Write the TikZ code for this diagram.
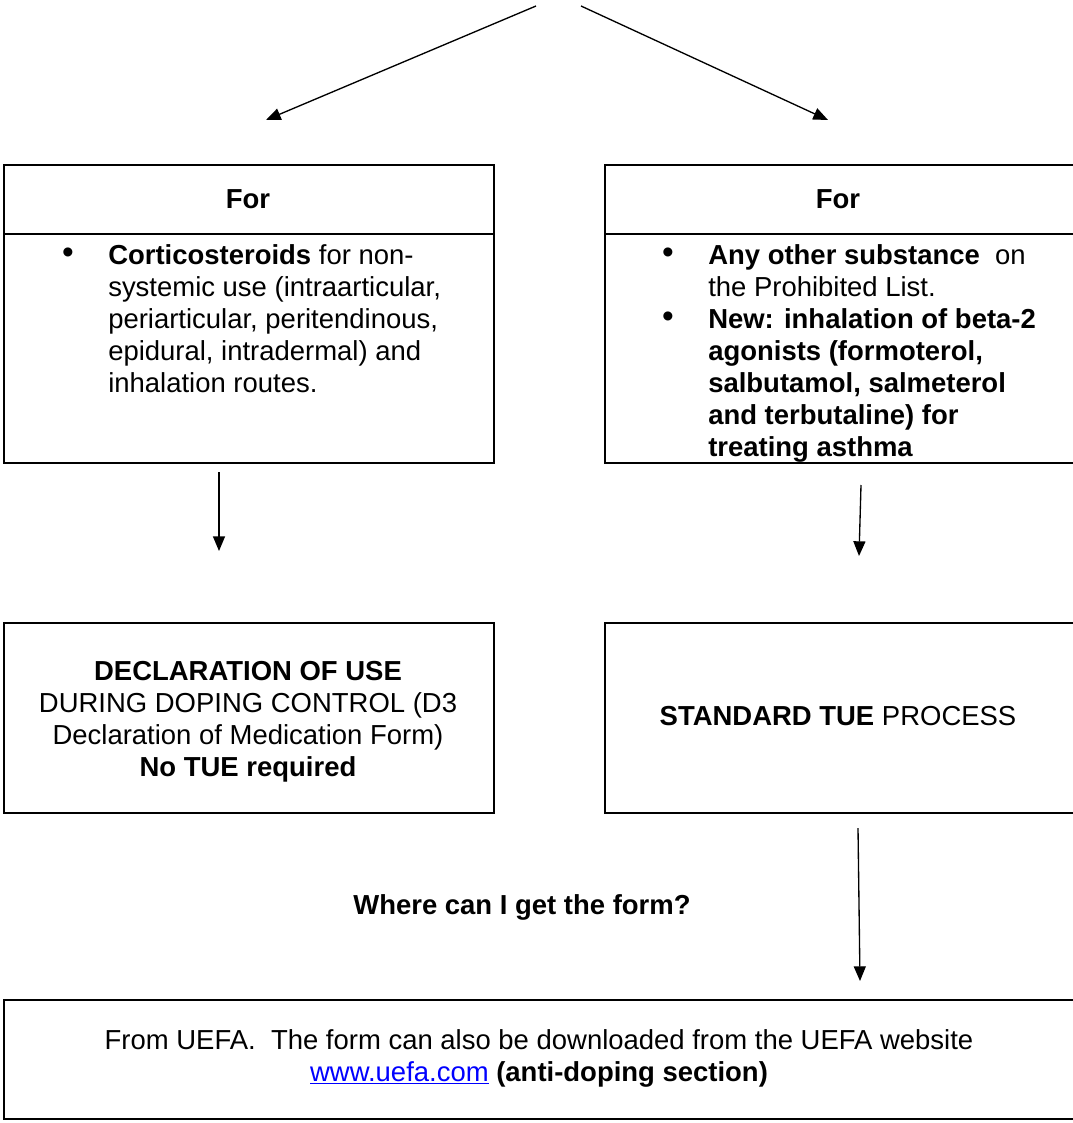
\documentclass[tikz,border=0pt]{standalone}
\usepackage{fontspec}
\setmainfont{Liberation Sans}
\usetikzlibrary{arrows.meta,calc}
\begin{document}
\begin{tikzpicture}[x=0.75pt,y=-0.75pt,
  box/.style={draw,line width=1.5pt,inner sep=0pt,anchor=north west},
  txt/.style={font=\fontsize{20.6}{24}\selectfont,inner sep=0pt},
  bft/.style={font=\fontsize{20.6}{24}\selectfont\bfseries,inner sep=0pt},
  bul/.style={font=\fontsize{25}{24}\selectfont,inner sep=0pt},
  arr/.style={line width=1pt,-{Triangle[length=11pt,width=9pt]}},
]
\path[use as bounding box,clip] (0,0) rectangle (1073,1123);
\fill[white] (0,0) rectangle (1073,1123);

% boxes
\node[box,minimum width=367.5pt,minimum height=223.5pt] (L1) at (3,164) {};
\node[box,minimum width=353.25pt,minimum height=223.5pt] (R1) at (604,164) {};
\node[box,minimum width=367.5pt,minimum height=142.5pt] (L2) at (3,622) {};
\node[box,minimum width=353.25pt,minimum height=142.5pt] (R2) at (604,622) {};
\node[box,minimum width=804pt,minimum height=89.25pt] (B) at (3,999) {};

% dividers
\draw[line width=1.5pt] (L1.west |- 0,234) -- (L1.east |- 0,234);
\draw[line width=1.5pt] (R1.west |- 0,234) -- (R1.east |- 0,234);

% headers
\node[bft] (forL) at (248,199) {For};
\node[bft] (forR) at (838,199) {For};

% left bullet
\node[bul] (bL) at (68,256) {\textbullet};
\node[txt,anchor=north west,align=left] (tL) at (108,244)
  {\textbf{Corticosteroids} for non-\\systemic use (intraarticular,\\periarticular, peritendinous,\\epidural, intradermal) and\\inhalation routes.};

% right bullets
\node[bul] (bR1) at (668,256) {\textbullet};
\node[txt,anchor=north west,align=left] (tR1) at (708,244)
  {\textbf{Any other substance}\ \ on\\the Prohibited List.};
\node[bul] (bR2) at (668,320) {\textbullet};
\node[bft,anchor=north west,align=left] (tR2) at (708,308)
  {New: inhalation of beta-2\\agonists (formoterol,\\salbutamol, salmeterol\\and terbutaline) for\\treating asthma};

% middle boxes text
\node[txt,align=center] (dL) at (248,722)
  {\textbf{DECLARATION OF USE}\\DURING DOPING CONTROL (D3\\Declaration of Medication Form)\\\textbf{No TUE required}};
\node[txt] (dR) at (838,716) {\textbf{STANDARD TUE} PROCESS};

% question
\node[bft] (q) at (522,907) {Where can I get the form?};

% bottom text
\node[txt,align=center] (f) at (539,1058)
  {From UEFA.\ \ The form can also be downloaded from the UEFA website\\{\color{blue}\underline{www.uefa.com}} \textbf{(anti-doping section)}};

% arrow coordinates
\coordinate (a1s) at (536,6);   \coordinate (a1e) at (266,120);
\coordinate (a2s) at (581,6);   \coordinate (a2e) at (828,120);
\coordinate (a3s) at (219,472); \coordinate (a3e) at (219,551);
\coordinate (a4s) at (861,485); \coordinate (a4e) at (859,556);
\coordinate (a5s) at (858,828); \coordinate (a5e) at (860,981);

\draw[arr] (a1s) -- (a1e);
\draw[arr] (a2s) -- (a2e);
\draw[arr] (a3s) -- (a3e);
\draw[arr] (a4s) -- (a4e);
\draw[arr] (a5s) -- (a5e);
\end{tikzpicture}
\end{document}
